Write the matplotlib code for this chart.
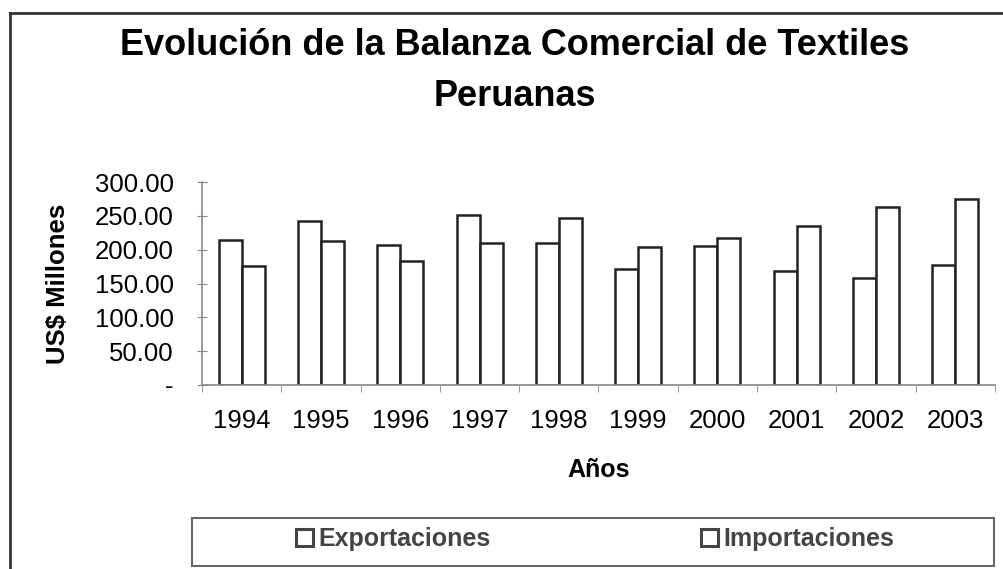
import matplotlib
matplotlib.use("Agg")
import matplotlib.pyplot as plt
from matplotlib.patches import Rectangle
from matplotlib.lines import Line2D
import numpy as np

plt.rcParams['font.family'] = ['Liberation Sans', 'DejaVu Sans']

# Datos (US$ millones)
anios = ["1994", "1995", "1996", "1997", "1998", "1999", "2000", "2001", "2002", "2003"]
exportaciones = [214, 243, 207, 252, 210, 171, 205, 169, 158, 178]
importaciones = [176, 213, 183, 210, 247, 204, 217, 235, 263, 275]
yticks = [0, 50, 100, 150, 200, 250, 300]

fig = plt.figure(figsize=(10.04, 5.69), dpi=100)
ax = fig.add_axes([0.2012, 0.3234, 0.7898, 0.3566])

x = np.arange(len(anios))
w = 0.29
ax.bar(x - w / 2, exportaciones, w, color="white", edgecolor="#222222",
       linewidth=1.8, label="Exportaciones")
ax.bar(x + w / 2, importaciones, w, color="white", edgecolor="#222222",
       linewidth=1.8, label="Importaciones")

ax.set_xlim(-0.5, len(anios) - 0.5)
ax.set_ylim(0, 300)

ax.set_yticks(yticks)
ax.set_yticklabels(["-" if v == 0 else f"{v:.2f}" for v in yticks], fontsize=18.5)
ax.tick_params(axis="y", direction="inout", length=7, color="#888888", pad=17)

ax.set_xticks(x)
ax.set_xticklabels(anios, fontsize=18.5)
ax.tick_params(axis="x", length=0, pad=17)
ax.set_xticks(np.arange(len(anios) + 1) - 0.5, minor=True)
ax.tick_params(axis="x", which="minor", direction="out", length=5, color="#888888")

for s in ["top", "right"]:
    ax.spines[s].set_visible(False)
for s in ["left", "bottom"]:
    ax.spines[s].set_color("#888888")
    ax.spines[s].set_linewidth(1.2)

ax.set_ylabel("US$ Millones", fontsize=18.5, fontweight="bold", labelpad=18)
ax.set_xlabel("Años", fontsize=18, fontweight="bold", labelpad=18)

fig.text(0.513, 1 - 71 / 569, "Evolución de la Balanza Comercial de Textiles\nPeruanas",
         ha="center", va="center", fontsize=26, fontweight="bold", linespacing=1.6)

# recuadro de la leyenda
fig.add_artist(Rectangle((192 / 1004, 3 / 569), 802 / 1004, 48 / 569,
                         transform=fig.transFigure, fill=False,
                         edgecolor="#666666", linewidth=1.5))
leg = fig.legend(loc="center", bbox_to_anchor=(595 / 1004, 1 - 539 / 569), ncol=2,
                 frameon=False, handlelength=0.7, handleheight=0.65,
                 handletextpad=0.2, columnspacing=8.4, labelcolor="#444444",
                 prop={"weight": "bold", "size": 18})
for h in leg.legend_handles:
    h.set_edgecolor("#444444")
    h.set_linewidth(2.2)

# borde del gráfico
fig.add_artist(Line2D([10 / 1004, 10 / 1004], [0, 1 - 13 / 569],
                      transform=fig.transFigure, color="#333333", linewidth=2))
fig.add_artist(Line2D([10 / 1004, 1], [1 - 13 / 569, 1 - 13 / 569],
                      transform=fig.transFigure, color="#333333", linewidth=2))

fig.savefig("out.png", dpi=100)
